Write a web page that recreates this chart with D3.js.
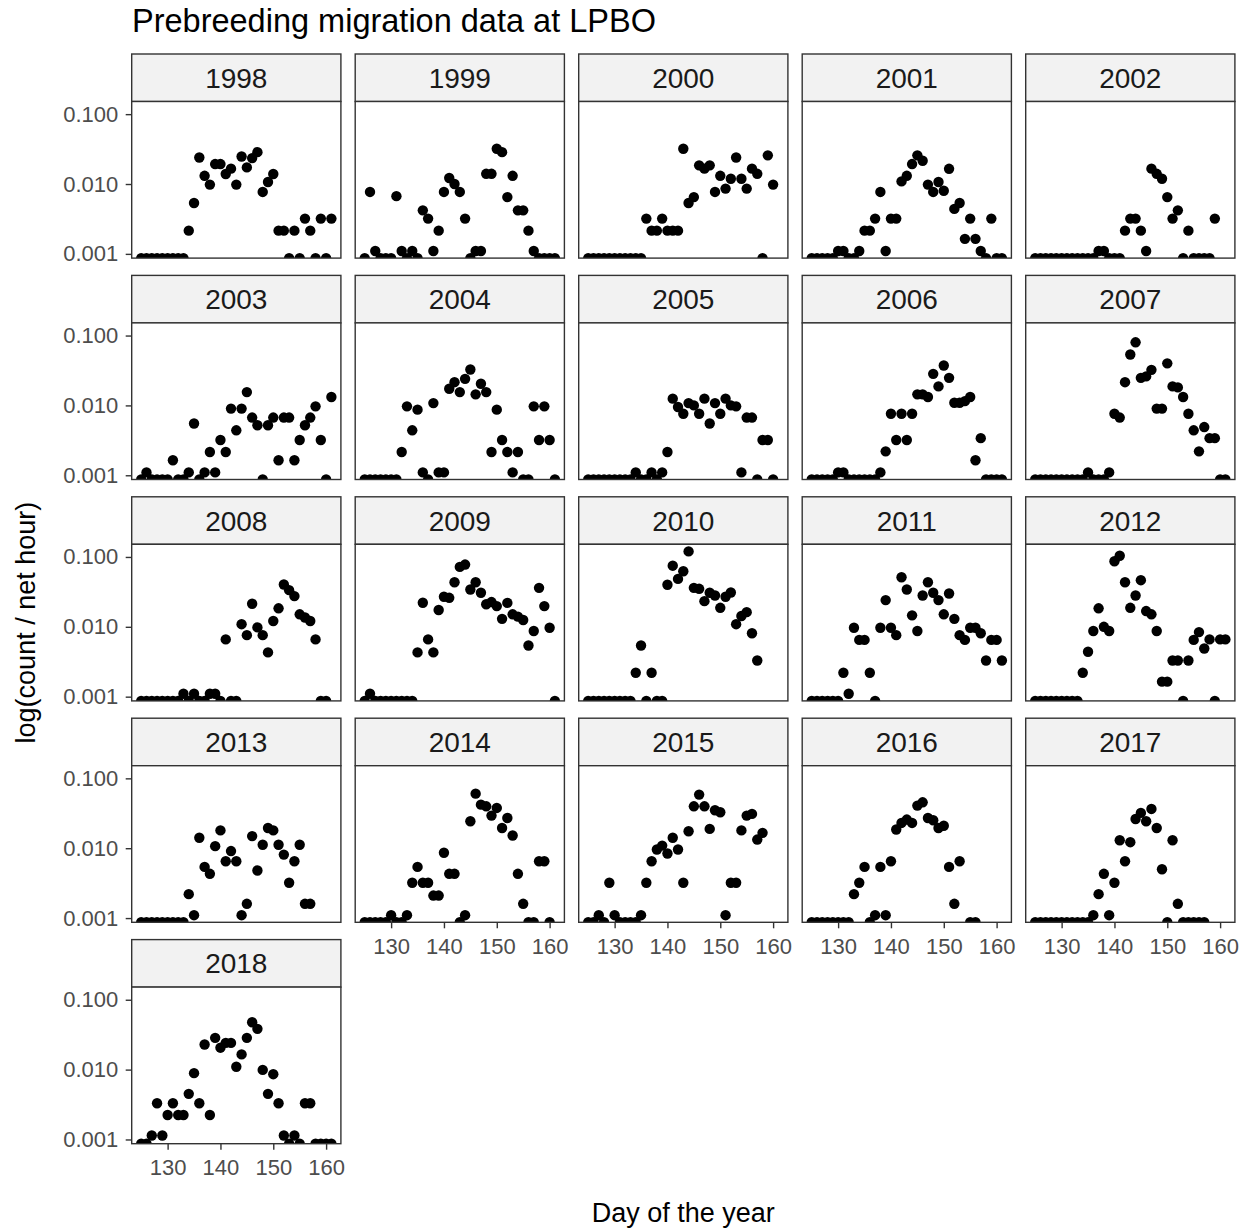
<!DOCTYPE html>
<html><head><meta charset="utf-8">
<script src="https://cdn.jsdelivr.net/npm/d3@7"></script>
<style>
body{margin:0;background:#fff}
text{font-family:"Liberation Sans",Arial,Helvetica,sans-serif}
</style>
</head><body>
<svg id="chart" width="1249" height="1232"></svg>
<script>
// ---------------- data ----------------
const days = [125,126,127,128,129,130,131,132,133,134,135,136,137,138,139,140,141,142,143,144,145,146,147,148,149,150,151,152,153,154,155,156,157,158,159,160,161];
const years = ["1998","1999","2000","2001","2002","2003","2004","2005","2006","2007","2008","2009","2010","2011","2012","2013","2014","2015","2016","2017","2018"];
// values for days 125..161 (0 = zero count, drawn at -Inf; null = no data)
const y1998 = [0,0,0,0,0,0,0,0,0,.00215,.00535,.024,.0131,.0098,.0193,.0193,.0139,.0166,.0098,.0248,.0173,.0235,.0286,.0077,.0107,.0139,.00215,.00215,0,.00215,0,.0032,.00215,0,.0032,0,.0032];
const y1999 = [0,.0077,.0011,0,0,0,.0067,.0011,0,.0011,0,.0042,.0032,.0011,.00215,.0077,.0122,.0100,.0077,.0032,0,.0011,.0011,.014,.014,.032,.0286,.0065,.0131,.0042,.0042,.00215,.0011,0,0,0,0];
const y2000 = [0,0,0,0,0,0,0,0,0,0,0,.0032,.00215,.00215,.0032,.00215,.00215,.00215,.032,.00535,.0065,.0185,.0166,.0185,.0077,.0131,.0086,.0119,.024,.0119,.0086,.0166,.014,0,.0257,.0098,null];
const y2001 = [0,0,0,0,0,.0011,.0011,0,0,.0011,.00215,.00215,.0032,.0077,.0011,.0032,.0032,.0109,.0131,.0193,.0257,.0215,.0098,.0077,.0107,.008,.0165,.0044,.00535,.00164,.0032,.00164,.0011,0,.0032,0,0];
const y2002 = [0,0,0,0,0,0,0,0,0,0,0,0,.0011,.0011,0,0,0,.00215,.0032,.0032,.00215,.0011,.0166,.014,.0119,.0065,.0032,.0042,0,.00215,0,0,0,0,.0032,null,null];
const y2003 = [0,.0011,0,0,0,0,.00164,0,0,.0011,.0055,0,.0011,.00215,.0011,.0032,.00215,.009,.0044,.009,.0155,.0067,.0052,0,.0052,.0067,.00164,.0067,.0067,.00164,.0032,.0052,.0067,.0097,.0032,0,.0132];
const y2004 = [0,0,0,0,0,0,0,.00215,.0097,.0044,.0087,.0011,0,.0108,.0011,.0011,.0173,.0215,.0155,.024,.0327,.0144,.0204,.0155,.00215,.0087,.0032,.00215,.0011,.00215,0,0,.0097,.0032,.0097,.0032,0];
const y2005 = [0,0,0,0,0,0,0,0,0,.0011,0,0,.0011,0,.0011,.00215,.0125,.0095,.0076,.0108,.01,.0076,.0125,.0055,.0108,.0076,.0125,.01,.0097,.0011,.0067,.0067,0,.0032,.0032,0,null];
const y2006 = [0,0,0,0,0,.0011,.0011,0,0,0,0,0,0,.0011,.0022,.0076,.0032,.0076,.0032,.0076,.0144,.0144,.0132,.0283,.0187,.0373,.0248,.0109,.0109,.0115,.0132,.00164,.0034,0,0,0,0];
const y2007 = [0,0,0,0,0,0,0,0,0,0,.0011,0,0,0,.0011,.0076,.0067,.0215,.0535,.080,.0248,.026,.0323,.009,.009,.040,.0187,.0181,.0132,.0076,.0044,.0022,.0049,.0034,.0034,0,0];
const y2008 = [0,0,0,0,0,0,0,0,.0011,0,.0011,0,0,.0011,.0011,0,.0066,0,0,.0109,.0076,.0214,.0098,.0076,.0043,.0121,.0184,.0403,.0335,.0275,.0151,.0136,.0121,.0066,0,0,null];
const y2009 = [0,.0011,0,0,0,0,0,0,0,0,.0043,.0221,.0066,.0043,.0174,.0269,.026,.0435,.072,.0778,.0342,.0435,.0307,.021,.0226,.0198,.013,.022,.0151,.014,.0125,.0054,.0087,.0361,.0198,.0097,0];
const y2010 = [0,0,0,0,0,0,0,0,0,.0022,.0054,0,.0022,0,0,.040,.075,.0485,.0625,.12,.0361,.035,.0233,.0307,.0281,.0187,.0269,.031,.0109,.0143,.0162,.0081,.0033,null,null,null,null];
const y2011 = [0,0,0,0,0,0,.0022,.0011,.0097,.0065,.0065,.0022,0,.0097,.0241,.0097,.0076,.0513,.0342,.0146,.0087,.0281,.0435,.0307,.0241,.0151,.03,.013,.0076,.0065,.0097,.0097,.0081,.0033,.0065,.0065,.0033];
const y2012 = [0,0,0,0,0,0,0,0,0,.0022,.0044,.0087,.0184,.01,.0087,.0868,.104,.0435,.0187,.0281,.0465,.0168,.0151,.0087,.00164,.00164,.0033,.0033,0,.0033,.0065,.0084,.0049,.0066,0,.0066,.0066];
const y2013 = [0,0,0,0,0,0,0,0,0,.0022,.0011,.0141,.0054,.0043,.0107,.018,.0065,.0091,.0065,.0011,.0016,.0149,.0048,.0112,.0195,.018,.0112,.0081,.0032,.0065,.0112,.0016,.0016,null,null,null,null];
const y2014 = [0,0,0,0,0,.0011,0,0,.0011,.0032,.0054,.0032,.0032,.0021,.0021,.0086,.0043,.0043,0,.0011,.0243,.0604,.042,.0398,.0293,.0377,.0195,.0271,.0152,.0043,.0016,0,0,.0065,.0065,0,null];
const y2015 = [0,0,.0011,0,.0032,.0011,0,0,0,0,.0011,.0032,.0065,.0096,.0109,.0084,.0141,.0096,.0032,.0175,.0398,.0585,.0398,.0189,.0349,.0327,.0011,.0032,.0032,.018,.0293,.031,.0133,.0166,null,null,null];
const y2016 = [0,0,0,0,0,0,0,0,.0022,.0032,.0054,0,.0011,.0054,.0011,.0065,.0185,.023,.0257,.023,.0407,.0454,.0271,.0251,.0195,.021,.0054,.0016,.0065,null,0,0,null,null,null,null,null];
const y2017 = [0,0,0,0,0,0,0,0,0,0,0,.0011,.0022,.0043,.0011,.0032,.013,.0065,.0122,.0262,.032,.0243,.0365,.0195,.005,0,.013,.0016,0,0,0,0,0,null,null,null,null];
const y2018 = [0,0,.00114,.0033,.00114,.00224,.0033,.00224,.00224,.0045,.0089,.0033,.0229,.00224,.0285,.0206,.0241,.0241,.011,.0165,.0285,.0476,.0383,.0099,.0045,.0086,.0033,.00114,0,.00114,0,.0033,.0033,0,0,0,0];
const seriesByYear = [y1998,y1999,y2000,y2001,y2002,y2003,y2004,y2005,y2006,y2007,y2008,y2009,y2010,y2011,y2012,y2013,y2014,y2015,y2016,y2017,y2018];
const yTicks = [0.001, 0.01, 0.1];
const xTicks = [130, 140, 150, 160];
const titleText = "Prebreeding migration data at LPBO";
const xTitle = "Day of the year";
const yTitle = "log(count / net hour)";

// ---------------- layout ----------------
const W = 1249, H = 1232;
const left0 = 131.7, colStep = 223.5, panelW = 209.2;
const top0 = 54, stripH = 47.5, panelH = 156.6, rowStep = 221.4;
const nCol = 5;

const svg = d3.select("#chart");
svg.append("rect").attr("width", W).attr("height", H).attr("fill", "#fff");

// scales (ggplot-like 5% expansion)
const xExt = d3.extent(days);
const xPad = (xExt[1] - xExt[0]) * 0.05;
const x = d3.scaleLinear().domain([xExt[0] - xPad, xExt[1] + xPad]).range([0, panelW]);

const allPos = seriesByYear.flat().filter(v => v != null && v > 0);
const lmin = Math.log10(d3.min(allPos)), lmax = Math.log10(d3.max(allPos));
const lpad = (lmax - lmin) * 0.05;
const y = d3.scaleLog().domain([Math.pow(10, lmin - lpad), Math.pow(10, lmax + lpad)]).range([panelH, 0]);
const yPos = v => v > 0 ? y(v) : y.range()[0]; // zero -> -Inf -> panel edge

const fmt = d3.format(".3f");
const nPanels = years.length;
const lastRow = Math.floor((nPanels - 1) / nCol);

years.forEach((yr, i) => {
  const r = Math.floor(i / nCol), c = i % nCol;
  const px = left0 + c * colStep;
  const sy = top0 + r * rowStep;
  const py = sy + stripH;

  // strip
  svg.append("rect").attr("x", px).attr("y", sy).attr("width", panelW).attr("height", stripH)
    .attr("fill", "#F2F2F2").attr("stroke", "#333333").attr("stroke-width", 1.4);
  svg.append("text").attr("x", px + panelW / 2).attr("y", sy + stripH / 2).attr("dy", "0.36em")
    .attr("text-anchor", "middle").attr("font-size", 28).attr("fill", "#1A1A1A").text(yr);

  const g = svg.append("g").attr("transform", `translate(${px},${py})`);
  const clipId = "clip" + i;
  g.append("clipPath").attr("id", clipId).append("rect").attr("width", panelW).attr("height", panelH);
  g.append("rect").attr("width", panelW).attr("height", panelH).attr("fill", "#fff");

  const pts = days.map((d, k) => ({d, v: seriesByYear[i][k]})).filter(p => p.v != null);
  g.append("g").attr("clip-path", `url(#${clipId})`)
    .selectAll("circle").data(pts).join("circle")
    .attr("cx", p => x(p.d)).attr("cy", p => yPos(p.v)).attr("r", 5.2).attr("fill", "#000");

  g.append("rect").attr("width", panelW).attr("height", panelH)
    .attr("fill", "none").attr("stroke", "#333333").attr("stroke-width", 1.4);

  // y axis on first column
  if (c === 0) {
    const ax = g.append("g").call(d3.axisLeft(y).tickValues(yTicks).tickFormat(fmt).tickSize(6).tickPadding(7.4));
    ax.select(".domain").remove();
    ax.selectAll("line").attr("stroke", "#333333").attr("stroke-width", 1.4);
    ax.selectAll("text").attr("font-size", 22).attr("fill", "#4D4D4D")
      .attr("font-family", '"Liberation Sans",Arial,sans-serif');
  }
  // x axis on bottom-most panel in each column
  const isBottom = (i + nCol >= nPanels);
  if (isBottom) {
    const ax = g.append("g").attr("transform", `translate(0,${panelH})`)
      .call(d3.axisBottom(x).tickValues(xTicks).tickSize(6).tickPadding(10));
    ax.select(".domain").remove();
    ax.selectAll("line").attr("stroke", "#333333").attr("stroke-width", 1.4);
    ax.selectAll("text").attr("font-size", 22).attr("fill", "#4D4D4D")
      .attr("font-family", '"Liberation Sans",Arial,sans-serif');
  }
});

// titles
svg.append("text").attr("x", 132).attr("y", 32).attr("font-size", 32.5).attr("fill", "#000").text(titleText);
svg.append("text").attr("x", left0 + (4 * colStep + panelW) / 2).attr("y", 1222)
  .attr("text-anchor", "middle").attr("font-size", 27).attr("fill", "#000").text(xTitle);
const panelsTop = top0 + stripH, panelsBottom = top0 + lastRow * rowStep + stripH + panelH;
svg.append("text").attr("transform", `translate(35,${(panelsTop + panelsBottom) / 2}) rotate(-90)`)
  .attr("text-anchor", "middle").attr("font-size", 27).attr("fill", "#000").text(yTitle);
</script>
</body></html>
